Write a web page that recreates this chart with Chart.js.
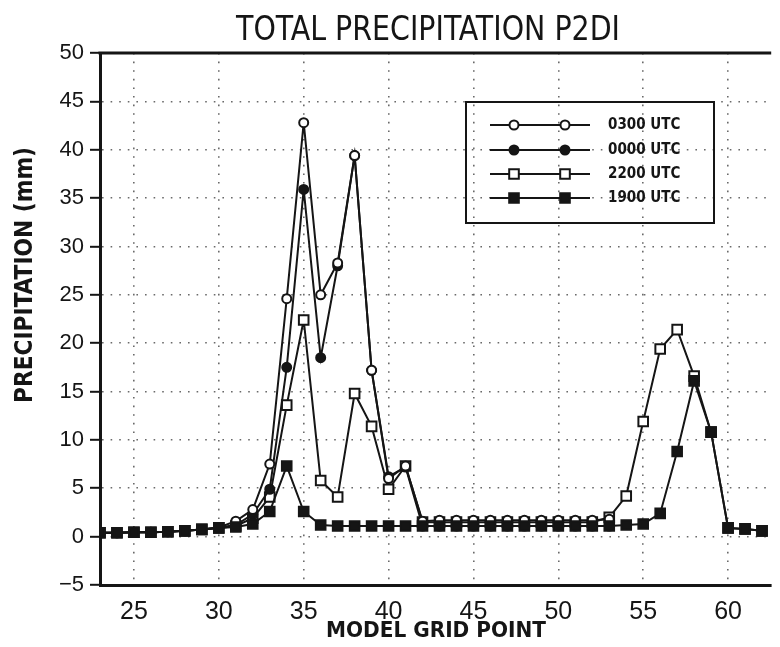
<!DOCTYPE html>
<html>
<head>
<meta charset="utf-8">
<script src="https://cdn.jsdelivr.net/npm/chart.js@4.4.1/dist/chart.umd.min.js"></script>
<style>
  html, body { margin: 0; padding: 0; background: #fff; }
</style>
</head>
<body>
<canvas id="precipChart" width="780" height="647"></canvas>
<script>
// -------------------------------
// DONNEES
// -------------------------------
const GRID_POINTS = [23, 24, 25, 26, 27, 28, 29, 30, 31, 32, 33, 34, 35, 36, 37, 38, 39, 40, 41, 42,
  43, 44, 45, 46, 47, 48, 49, 50, 51, 52, 53, 54, 55, 56, 57, 58, 59, 60, 61, 62];

const UTC_0300 = [0.4, 0.4, 0.45, 0.45, 0.5, 0.6, 0.75, 0.95, 1.6, 2.8, 7.5, 24.6, 42.8, 25.0, 28.3, 39.4, 17.2, 6.0, 7.3, 1.6,
  1.7, 1.7, 1.7, 1.7, 1.7, 1.7, 1.7, 1.7, 1.7, 1.7, 1.8, null, null, null, null, null, null, null, null, null];
const UTC_0000 = [0.4, 0.4, 0.45, 0.45, 0.5, 0.6, 0.75, 0.95, 1.2, 2.3, 4.9, 17.5, 35.9, 18.5, 28.0, 39.4, 17.2, 6.2, 7.2, 1.1,
  1.1, 1.1, 1.1, 1.1, 1.1, 1.1, 1.1, 1.1, 1.1, 1.1, 1.1, null, null, null, null, null, null, null, null, null];
const UTC_2200 = [0.4, 0.4, 0.45, 0.45, 0.5, 0.6, 0.75, 0.9, 1.1, 1.9, 4.1, 13.6, 22.4, 5.8, 4.1, 14.8, 11.4, 4.9, 7.3, 1.5,
  1.5, 1.5, 1.5, 1.5, 1.5, 1.5, 1.5, 1.5, 1.5, 1.5, 2.0, 4.2, 11.9, 19.4, 21.4, 16.6, 10.8, 0.9, 0.8, 0.6];
const UTC_1900 = [0.4, 0.4, 0.45, 0.45, 0.5, 0.6, 0.75, 0.9, 1.0, 1.3, 2.6, 7.3, 2.6, 1.2, 1.1, 1.1, 1.1, 1.1, 1.1, 1.1,
  1.1, 1.1, 1.1, 1.1, 1.1, 1.1, 1.1, 1.1, 1.1, 1.1, 1.1, 1.2, 1.3, 2.4, 8.8, 16.1, 10.8, 0.9, 0.8, 0.6];

const SERIES_LABELS = ["0300 UTC", "0000 UTC", "2200 UTC", "1900 UTC"];
const TITLE = "TOTAL PRECIPITATION P2DI";
const X_TITLE = "MODEL GRID POINT";
const Y_TITLE = "PRECIPITATION (mm)";

const INK = '#151515';
const NARROW = '"Liberation Sans Narrow", "DejaVu Sans Condensed", "Liberation Sans", sans-serif';

function toPoints(values) {
  return GRID_POINTS.map((x, i) => ({ x: x, y: values[i] }));
}

// style de chaque courbe : marqueur, remplissage, ordre de dessin (0 = dessus)
const STYLES = [
  { pointStyle: 'circle', radius: 4.5, fill: '#ffffff', order: 1 },
  { pointStyle: 'circle', radius: 4.5, fill: INK, order: 2 },
  { pointStyle: 'rect', radius: 6.8, fill: '#ffffff', order: 3 },
  { pointStyle: 'rect', radius: 6.8, fill: INK, order: 0 }
];

function makeDataset(label, values, style) {
  return {
    label: label,
    data: toPoints(values),
    order: style.order,
    borderColor: INK,
    borderWidth: 2,
    pointStyle: style.pointStyle,
    pointRadius: style.radius,
    pointBackgroundColor: style.fill,
    pointBorderColor: INK,
    pointBorderWidth: 2,
    tension: 0,
    spanGaps: false
  };
}

// texte compressé horizontalement pour imiter la police étroite d'origine
function drawFitText(ctx, text, cx, cy, width, font) {
  ctx.save();
  ctx.font = font;
  const w = ctx.measureText(text).width;
  ctx.translate(cx, cy);
  ctx.scale(width / w, 1);
  ctx.textAlign = 'center';
  ctx.textBaseline = 'middle';
  ctx.fillText(text, 0, 0);
  ctx.restore();
}

// cadre du haut, titres et légende
const decorations = {
  id: 'decorations',
  afterDraw(chart) {
    const { ctx, chartArea } = chart;
    ctx.save();
    ctx.fillStyle = INK;
    ctx.strokeStyle = INK;

    // trait du haut
    ctx.lineWidth = 3;
    ctx.beginPath();
    ctx.moveTo(chartArea.left - 1.5, chartArea.top);
    ctx.lineTo(chartArea.right, chartArea.top);
    ctx.stroke();

    // titres
    drawFitText(ctx, TITLE, 428, 31, 384, 'normal 34px ' + NARROW);
    drawFitText(ctx, X_TITLE, 436, 631, 220, 'bold 22px ' + NARROW);
    ctx.save();
    ctx.translate(26, 275);
    ctx.rotate(-Math.PI / 2);
    drawFitText(ctx, Y_TITLE, 0, 0, 256, 'bold 24px ' + NARROW);
    ctx.restore();

    // légende (dans l'ordre des séries)
    ctx.lineWidth = 2;
    ctx.strokeRect(466, 102, 248, 121);
    const rows = [125, 150, 174, 198];
    SERIES_LABELS.forEach((label, i) => {
      const ds = chart.data.datasets.find(d => d.label === label);
      const y = rows[i];
      ctx.lineWidth = 2;
      ctx.strokeStyle = INK;
      ctx.beginPath();
      ctx.moveTo(490, y);
      ctx.lineTo(590, y);
      ctx.stroke();
      [514, 565].forEach(mx => {
        ctx.fillStyle = ds.pointBackgroundColor;
        ctx.strokeStyle = INK;
        ctx.lineWidth = 2;
        Chart.helpers.drawPoint(ctx, {
          pointStyle: ds.pointStyle,
          radius: ds.pointRadius,
          borderWidth: 2,
          rotation: 0
        }, mx, y);
      });
      ctx.fillStyle = INK;
      ctx.font = 'bold 15px ' + NARROW;
      ctx.textAlign = 'left';
      ctx.textBaseline = 'middle';
      ctx.fillText(label, 608, y);
    });
    ctx.restore();
  }
};

const ctx = document.getElementById('precipChart').getContext('2d');

new Chart(ctx, {
  type: 'line',
  data: {
    datasets: [
      makeDataset(SERIES_LABELS[0], UTC_0300, STYLES[0]),
      makeDataset(SERIES_LABELS[1], UTC_0000, STYLES[1]),
      makeDataset(SERIES_LABELS[2], UTC_2200, STYLES[2]),
      makeDataset(SERIES_LABELS[3], UTC_1900, STYLES[3])
    ]
  },
  options: {
    responsive: false,
    animation: false,
    layout: { padding: { top: 53, right: 0, bottom: 0, left: 0 } },
    plugins: {
      legend: { display: false },
      title: { display: false },
      tooltip: { enabled: false }
    },
    scales: {
      x: {
        type: 'linear',
        min: 23,
        max: 62.54,
        afterFit: scale => { scale.height = 62; },
        ticks: {
          stepSize: 5,
          includeBounds: false,
          color: INK,
          padding: 12,
          maxRotation: 0,
          font: { family: '"Liberation Sans", Arial, sans-serif', size: 25 }
        },
        grid: {
          color: '#6a6a6a',
          lineWidth: 1.6,
          drawTicks: false
        },
        border: { display: true, color: INK, width: 3, dash: [1.6, 7] }
      },
      y: {
        min: -5,
        max: 50,
        afterFit: scale => { scale.width = 100; },
        ticks: {
          stepSize: 5,
          color: INK,
          padding: 6,
          font: { family: '"Liberation Sans", Arial, sans-serif', size: 22 },
          callback: v => String(v).replace('-', '\u2212')
        },
        grid: {
          color: '#6a6a6a',
          lineWidth: 1.6,
          drawTicks: true,
          tickLength: 10,
          tickColor: INK,
          tickWidth: 2,
          tickBorderDash: []
        },
        border: { display: true, color: INK, width: 3, dash: [1.6, 7] }
      }
    }
  },
  plugins: [decorations]
});
</script>
</body>
</html>
